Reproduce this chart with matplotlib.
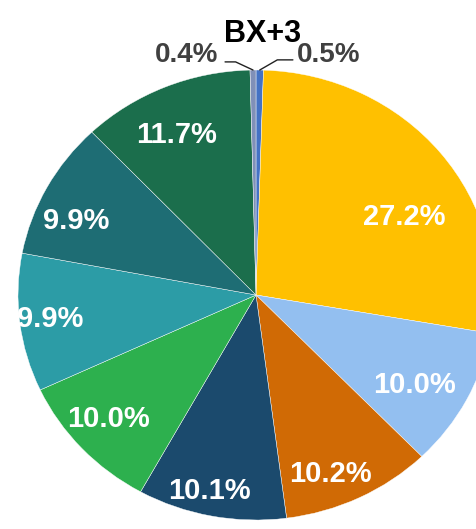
import numpy as np
import matplotlib
matplotlib.use('Agg')
import matplotlib.pyplot as plt

plt.rcParams['font.family'] = ['Liberation Sans', 'DejaVu Sans']

# slices, clockwise from 12 o'clock
values = [0.5, 27.2, 10.0, 10.2, 10.1, 10.0, 9.9, 9.9, 11.7, 0.4]
labels = ['0.5%', '27.2%', '10.0%', '10.2%', '10.1%', '10.0%', '9.9%', '9.9%', '11.7%', '0.4%']
colors = ['#4472C4', '#FFC000', '#93BFF0', '#D06A05', '#1B4A6D',
          '#2DB04E', '#2C9CA6', '#1E6D74', '#1B6E4C', '#8090B8']
title = 'BX+3'

# label placement (radius fraction and small angle nudge, degrees)
lab_dist = [None, 0.72, 0.77, 0.84, 0.88, 0.82, 0.87, 0.83, 0.80, None]
lab_nudge = [0, -9, -2, -4, -2, -2, -1, 4, 2, 0]

fig = plt.figure(figsize=(4.77, 5.29), dpi=100)
ax = fig.add_axes([0, 0, 1, 1])

wedges, _ = ax.pie(values, colors=colors, startangle=90, counterclock=False,
                   wedgeprops=dict(edgecolor='white', linewidth=0.3))
ax.set_aspect('auto')
# pie centre at (256, 295) px, radii 238 x 225 px
ax.set_xlim(-256 / 238, (477 - 256) / 238)
ax.set_ylim(-(529 - 295) / 225, 295 / 225)
ax.axis('off')

for i, w in enumerate(wedges):
    mid = np.deg2rad((w.theta1 + w.theta2) / 2 + lab_nudge[i])
    if lab_dist[i] is not None:
        d = lab_dist[i]
        ax.text(d * np.cos(mid), d * np.sin(mid) - 0.015, labels[i], color='white',
                fontsize=21, fontweight='bold', ha='center', va='center')

# small slices at the top: labels outside with leader lines
line_kw = dict(arrowstyle='-', color='#222222', lw=1.0, shrinkA=0, shrinkB=0)

w_small = wedges[0]
mid = np.deg2rad((w_small.theta1 + w_small.theta2) / 2)
ax.annotate('', xy=(np.cos(mid), np.sin(mid)), xytext=(0.155, 1.045),
            arrowprops=dict(connectionstyle='angle,angleA=180,angleB=30,rad=0', **line_kw))
ax.text(0.172, 1.036, labels[0], fontsize=20, fontweight='bold', color='#404040',
        ha='left', va='baseline')

w_small = wedges[-1]
mid = np.deg2rad((w_small.theta1 + w_small.theta2) / 2)
ax.annotate('', xy=(np.cos(mid), np.sin(mid)), xytext=(-0.13, 1.036),
            arrowprops=dict(connectionstyle='angle,angleA=0,angleB=155,rad=0', **line_kw))
ax.text(-0.16, 1.036, labels[-1], fontsize=20, fontweight='bold', color='#404040',
        ha='right', va='baseline')

fig.text(263 / 477, 1 - 34 / 529, title, fontsize=22, fontweight='bold',
         ha='center', va='center', color='black')

fig.savefig('out.png', dpi=100)
